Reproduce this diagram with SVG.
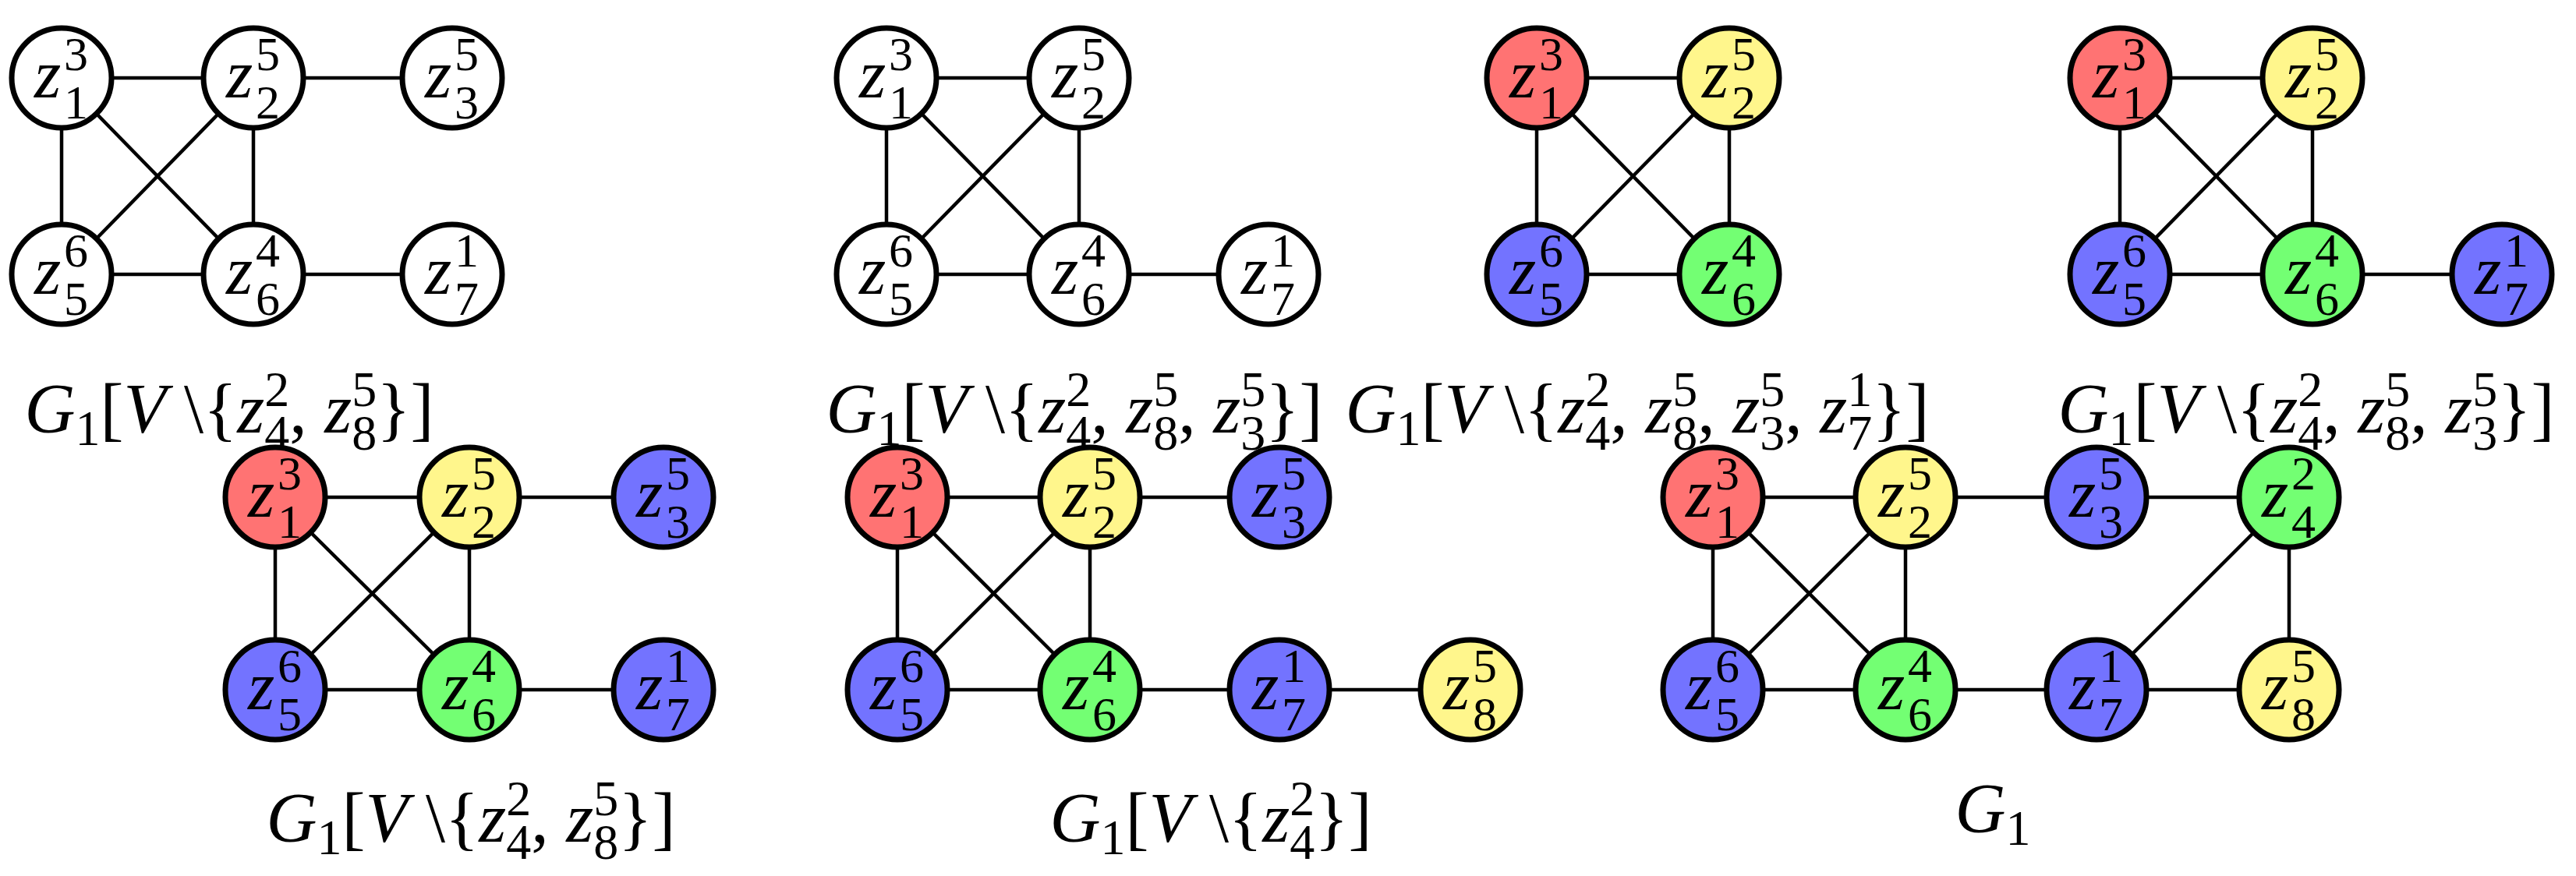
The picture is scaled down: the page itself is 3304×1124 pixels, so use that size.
<svg xmlns="http://www.w3.org/2000/svg" width="3304" height="1124" viewBox="0 0 3304 1124">
<style>
circle{stroke:#000;stroke-width:7}
.w{fill:#fff}.r{fill:#ff7373}.y{fill:#fff68c}.b{fill:#7373ff}.g{fill:#73ff73}
line{stroke:#000;stroke-width:4.5}
text{font-family:"Liberation Serif",serif;fill:#000}
.n{font-size:88px}
.i{font-style:italic}
.d{font-size:62px;font-style:normal}
.lab{font-size:90px}
.s{font-size:64px}
</style>
<g id="edges">
<line x1="79" y1="100" x2="325" y2="100"/><line x1="79" y1="100" x2="79" y2="352"/><line x1="79" y1="100" x2="325" y2="352"/><line x1="325" y1="100" x2="79" y2="352"/><line x1="325" y1="100" x2="325" y2="352"/><line x1="79" y1="352" x2="325" y2="352"/><line x1="325" y1="100" x2="580" y2="100"/><line x1="325" y1="352" x2="580" y2="352"/>
<line x1="1137" y1="100" x2="1384" y2="100"/><line x1="1137" y1="100" x2="1137" y2="352"/><line x1="1137" y1="100" x2="1384" y2="352"/><line x1="1384" y1="100" x2="1137" y2="352"/><line x1="1384" y1="100" x2="1384" y2="352"/><line x1="1137" y1="352" x2="1384" y2="352"/><line x1="1384" y1="352" x2="1627" y2="352"/>
<line x1="1971" y1="100" x2="2218" y2="100"/><line x1="1971" y1="100" x2="1971" y2="352"/><line x1="1971" y1="100" x2="2218" y2="352"/><line x1="2218" y1="100" x2="1971" y2="352"/><line x1="2218" y1="100" x2="2218" y2="352"/><line x1="1971" y1="352" x2="2218" y2="352"/>
<line x1="2719" y1="100" x2="2966" y2="100"/><line x1="2719" y1="100" x2="2719" y2="352"/><line x1="2719" y1="100" x2="2966" y2="352"/><line x1="2966" y1="100" x2="2719" y2="352"/><line x1="2966" y1="100" x2="2966" y2="352"/><line x1="2719" y1="352" x2="2966" y2="352"/><line x1="2966" y1="352" x2="3209" y2="352"/>
<line x1="353" y1="638" x2="602" y2="638"/><line x1="353" y1="638" x2="353" y2="885"/><line x1="353" y1="638" x2="602" y2="885"/><line x1="602" y1="638" x2="353" y2="885"/><line x1="602" y1="638" x2="602" y2="885"/><line x1="353" y1="885" x2="602" y2="885"/><line x1="602" y1="638" x2="851" y2="638"/><line x1="602" y1="885" x2="851" y2="885"/>
<line x1="1151" y1="638" x2="1398" y2="638"/><line x1="1151" y1="638" x2="1151" y2="885"/><line x1="1151" y1="638" x2="1398" y2="885"/><line x1="1398" y1="638" x2="1151" y2="885"/><line x1="1398" y1="638" x2="1398" y2="885"/><line x1="1151" y1="885" x2="1398" y2="885"/><line x1="1398" y1="638" x2="1641" y2="638"/><line x1="1398" y1="885" x2="1641" y2="885"/><line x1="1641" y1="885" x2="1886" y2="885"/>
<line x1="2197" y1="638" x2="2444" y2="638"/><line x1="2197" y1="638" x2="2197" y2="885"/><line x1="2197" y1="638" x2="2444" y2="885"/><line x1="2444" y1="638" x2="2197" y2="885"/><line x1="2444" y1="638" x2="2444" y2="885"/><line x1="2197" y1="885" x2="2444" y2="885"/><line x1="2444" y1="638" x2="2689" y2="638"/><line x1="2689" y1="638" x2="2936" y2="638"/><line x1="2444" y1="885" x2="2689" y2="885"/><line x1="2689" y1="885" x2="2936" y2="885"/><line x1="2936" y1="638" x2="2689" y2="885"/><line x1="2936" y1="638" x2="2936" y2="885"/>
</g>

<g id="p1z1"><circle class="w" cx="79" cy="100" r="64"/><text class="n"><tspan class="i" x="44" y="125">z</tspan><tspan class="d" x="82" y="90">3</tspan><tspan class="d" x="82" y="152">1</tspan></text></g>
<g id="p1z2"><circle class="w" cx="325" cy="100" r="64"/><text class="n"><tspan class="i" x="290" y="125">z</tspan><tspan class="d" x="328" y="90">5</tspan><tspan class="d" x="328" y="152">2</tspan></text></g>
<g id="p1z3"><circle class="w" cx="580" cy="100" r="64"/><text class="n"><tspan class="i" x="545" y="125">z</tspan><tspan class="d" x="583" y="90">5</tspan><tspan class="d" x="583" y="152">3</tspan></text></g>
<g id="p1z5"><circle class="w" cx="79" cy="352" r="64"/><text class="n"><tspan class="i" x="44" y="377">z</tspan><tspan class="d" x="82" y="342">6</tspan><tspan class="d" x="82" y="404">5</tspan></text></g>
<g id="p1z6"><circle class="w" cx="325" cy="352" r="64"/><text class="n"><tspan class="i" x="290" y="377">z</tspan><tspan class="d" x="328" y="342">4</tspan><tspan class="d" x="328" y="404">6</tspan></text></g>
<g id="p1z7"><circle class="w" cx="580" cy="352" r="64"/><text class="n"><tspan class="i" x="545" y="377">z</tspan><tspan class="d" x="583" y="342">1</tspan><tspan class="d" x="583" y="404">7</tspan></text></g>
<g id="p2z1"><circle class="w" cx="1137" cy="100" r="64"/><text class="n"><tspan class="i" x="1102" y="125">z</tspan><tspan class="d" x="1140" y="90">3</tspan><tspan class="d" x="1140" y="152">1</tspan></text></g>
<g id="p2z2"><circle class="w" cx="1384" cy="100" r="64"/><text class="n"><tspan class="i" x="1349" y="125">z</tspan><tspan class="d" x="1387" y="90">5</tspan><tspan class="d" x="1387" y="152">2</tspan></text></g>
<g id="p2z5"><circle class="w" cx="1137" cy="352" r="64"/><text class="n"><tspan class="i" x="1102" y="377">z</tspan><tspan class="d" x="1140" y="342">6</tspan><tspan class="d" x="1140" y="404">5</tspan></text></g>
<g id="p2z6"><circle class="w" cx="1384" cy="352" r="64"/><text class="n"><tspan class="i" x="1349" y="377">z</tspan><tspan class="d" x="1387" y="342">4</tspan><tspan class="d" x="1387" y="404">6</tspan></text></g>
<g id="p2z7"><circle class="w" cx="1627" cy="352" r="64"/><text class="n"><tspan class="i" x="1592" y="377">z</tspan><tspan class="d" x="1630" y="342">1</tspan><tspan class="d" x="1630" y="404">7</tspan></text></g>
<g id="p3z1"><circle class="r" cx="1971" cy="100" r="64"/><text class="n"><tspan class="i" x="1936" y="125">z</tspan><tspan class="d" x="1974" y="90">3</tspan><tspan class="d" x="1974" y="152">1</tspan></text></g>
<g id="p3z2"><circle class="y" cx="2218" cy="100" r="64"/><text class="n"><tspan class="i" x="2183" y="125">z</tspan><tspan class="d" x="2221" y="90">5</tspan><tspan class="d" x="2221" y="152">2</tspan></text></g>
<g id="p3z5"><circle class="b" cx="1971" cy="352" r="64"/><text class="n"><tspan class="i" x="1936" y="377">z</tspan><tspan class="d" x="1974" y="342">6</tspan><tspan class="d" x="1974" y="404">5</tspan></text></g>
<g id="p3z6"><circle class="g" cx="2218" cy="352" r="64"/><text class="n"><tspan class="i" x="2183" y="377">z</tspan><tspan class="d" x="2221" y="342">4</tspan><tspan class="d" x="2221" y="404">6</tspan></text></g>
<g id="p4z1"><circle class="r" cx="2719" cy="100" r="64"/><text class="n"><tspan class="i" x="2684" y="125">z</tspan><tspan class="d" x="2722" y="90">3</tspan><tspan class="d" x="2722" y="152">1</tspan></text></g>
<g id="p4z2"><circle class="y" cx="2966" cy="100" r="64"/><text class="n"><tspan class="i" x="2931" y="125">z</tspan><tspan class="d" x="2969" y="90">5</tspan><tspan class="d" x="2969" y="152">2</tspan></text></g>
<g id="p4z5"><circle class="b" cx="2719" cy="352" r="64"/><text class="n"><tspan class="i" x="2684" y="377">z</tspan><tspan class="d" x="2722" y="342">6</tspan><tspan class="d" x="2722" y="404">5</tspan></text></g>
<g id="p4z6"><circle class="g" cx="2966" cy="352" r="64"/><text class="n"><tspan class="i" x="2931" y="377">z</tspan><tspan class="d" x="2969" y="342">4</tspan><tspan class="d" x="2969" y="404">6</tspan></text></g>
<g id="p4z7"><circle class="b" cx="3209" cy="352" r="64"/><text class="n"><tspan class="i" x="3174" y="377">z</tspan><tspan class="d" x="3212" y="342">1</tspan><tspan class="d" x="3212" y="404">7</tspan></text></g>
<g id="p5z1"><circle class="r" cx="353" cy="638" r="64"/><text class="n"><tspan class="i" x="318" y="663">z</tspan><tspan class="d" x="356" y="628">3</tspan><tspan class="d" x="356" y="690">1</tspan></text></g>
<g id="p5z2"><circle class="y" cx="602" cy="638" r="64"/><text class="n"><tspan class="i" x="567" y="663">z</tspan><tspan class="d" x="605" y="628">5</tspan><tspan class="d" x="605" y="690">2</tspan></text></g>
<g id="p5z3"><circle class="b" cx="851" cy="638" r="64"/><text class="n"><tspan class="i" x="816" y="663">z</tspan><tspan class="d" x="854" y="628">5</tspan><tspan class="d" x="854" y="690">3</tspan></text></g>
<g id="p5z5"><circle class="b" cx="353" cy="885" r="64"/><text class="n"><tspan class="i" x="318" y="910">z</tspan><tspan class="d" x="356" y="875">6</tspan><tspan class="d" x="356" y="937">5</tspan></text></g>
<g id="p5z6"><circle class="g" cx="602" cy="885" r="64"/><text class="n"><tspan class="i" x="567" y="910">z</tspan><tspan class="d" x="605" y="875">4</tspan><tspan class="d" x="605" y="937">6</tspan></text></g>
<g id="p5z7"><circle class="b" cx="851" cy="885" r="64"/><text class="n"><tspan class="i" x="816" y="910">z</tspan><tspan class="d" x="854" y="875">1</tspan><tspan class="d" x="854" y="937">7</tspan></text></g>
<g id="p6z1"><circle class="r" cx="1151" cy="638" r="64"/><text class="n"><tspan class="i" x="1116" y="663">z</tspan><tspan class="d" x="1154" y="628">3</tspan><tspan class="d" x="1154" y="690">1</tspan></text></g>
<g id="p6z2"><circle class="y" cx="1398" cy="638" r="64"/><text class="n"><tspan class="i" x="1363" y="663">z</tspan><tspan class="d" x="1401" y="628">5</tspan><tspan class="d" x="1401" y="690">2</tspan></text></g>
<g id="p6z3"><circle class="b" cx="1641" cy="638" r="64"/><text class="n"><tspan class="i" x="1606" y="663">z</tspan><tspan class="d" x="1644" y="628">5</tspan><tspan class="d" x="1644" y="690">3</tspan></text></g>
<g id="p6z5"><circle class="b" cx="1151" cy="885" r="64"/><text class="n"><tspan class="i" x="1116" y="910">z</tspan><tspan class="d" x="1154" y="875">6</tspan><tspan class="d" x="1154" y="937">5</tspan></text></g>
<g id="p6z6"><circle class="g" cx="1398" cy="885" r="64"/><text class="n"><tspan class="i" x="1363" y="910">z</tspan><tspan class="d" x="1401" y="875">4</tspan><tspan class="d" x="1401" y="937">6</tspan></text></g>
<g id="p6z7"><circle class="b" cx="1641" cy="885" r="64"/><text class="n"><tspan class="i" x="1606" y="910">z</tspan><tspan class="d" x="1644" y="875">1</tspan><tspan class="d" x="1644" y="937">7</tspan></text></g>
<g id="p6z8"><circle class="y" cx="1886" cy="885" r="64"/><text class="n"><tspan class="i" x="1851" y="910">z</tspan><tspan class="d" x="1889" y="875">5</tspan><tspan class="d" x="1889" y="937">8</tspan></text></g>
<g id="p7z1"><circle class="r" cx="2197" cy="638" r="64"/><text class="n"><tspan class="i" x="2162" y="663">z</tspan><tspan class="d" x="2200" y="628">3</tspan><tspan class="d" x="2200" y="690">1</tspan></text></g>
<g id="p7z2"><circle class="y" cx="2444" cy="638" r="64"/><text class="n"><tspan class="i" x="2409" y="663">z</tspan><tspan class="d" x="2447" y="628">5</tspan><tspan class="d" x="2447" y="690">2</tspan></text></g>
<g id="p7z3"><circle class="b" cx="2689" cy="638" r="64"/><text class="n"><tspan class="i" x="2654" y="663">z</tspan><tspan class="d" x="2692" y="628">5</tspan><tspan class="d" x="2692" y="690">3</tspan></text></g>
<g id="p7z4"><circle class="g" cx="2936" cy="638" r="64"/><text class="n"><tspan class="i" x="2901" y="663">z</tspan><tspan class="d" x="2939" y="628">2</tspan><tspan class="d" x="2939" y="690">4</tspan></text></g>
<g id="p7z5"><circle class="b" cx="2197" cy="885" r="64"/><text class="n"><tspan class="i" x="2162" y="910">z</tspan><tspan class="d" x="2200" y="875">6</tspan><tspan class="d" x="2200" y="937">5</tspan></text></g>
<g id="p7z6"><circle class="g" cx="2444" cy="885" r="64"/><text class="n"><tspan class="i" x="2409" y="910">z</tspan><tspan class="d" x="2447" y="875">4</tspan><tspan class="d" x="2447" y="937">6</tspan></text></g>
<g id="p7z7"><circle class="b" cx="2689" cy="885" r="64"/><text class="n"><tspan class="i" x="2654" y="910">z</tspan><tspan class="d" x="2692" y="875">1</tspan><tspan class="d" x="2692" y="937">7</tspan></text></g>
<g id="p7z8"><circle class="y" cx="2936" cy="885" r="64"/><text class="n"><tspan class="i" x="2901" y="910">z</tspan><tspan class="d" x="2939" y="875">5</tspan><tspan class="d" x="2939" y="937">8</tspan></text></g>

<g id="labels">
<text class="lab" x="294" y="555" text-anchor="middle"><tspan class="i">G</tspan><tspan class="s" dy="16">1</tspan><tspan dy="-16">[</tspan><tspan class="i">V</tspan> \{<tspan class="i">z</tspan><tspan class="s" dy="-34">2</tspan><tspan class="s" dx="-32" dy="56">4</tspan><tspan dy="-22">, </tspan><tspan class="i">z</tspan><tspan class="s" dy="-34">5</tspan><tspan class="s" dx="-32" dy="56">8</tspan><tspan dy="-22">}]</tspan></text>
<text class="lab" x="1378" y="555" text-anchor="middle"><tspan class="i">G</tspan><tspan class="s" dy="16">1</tspan><tspan dy="-16">[</tspan><tspan class="i">V</tspan> \{<tspan class="i">z</tspan><tspan class="s" dy="-34">2</tspan><tspan class="s" dx="-32" dy="56">4</tspan><tspan dy="-22">, </tspan><tspan class="i">z</tspan><tspan class="s" dy="-34">5</tspan><tspan class="s" dx="-32" dy="56">8</tspan><tspan dy="-22">, </tspan><tspan class="i">z</tspan><tspan class="s" dy="-34">5</tspan><tspan class="s" dx="-32" dy="56">3</tspan><tspan dy="-22">}]</tspan></text>
<text class="lab" x="2100" y="555" text-anchor="middle"><tspan class="i">G</tspan><tspan class="s" dy="16">1</tspan><tspan dy="-16">[</tspan><tspan class="i">V</tspan> \{<tspan class="i">z</tspan><tspan class="s" dy="-34">2</tspan><tspan class="s" dx="-32" dy="56">4</tspan><tspan dy="-22">, </tspan><tspan class="i">z</tspan><tspan class="s" dy="-34">5</tspan><tspan class="s" dx="-32" dy="56">8</tspan><tspan dy="-22">, </tspan><tspan class="i">z</tspan><tspan class="s" dy="-34">5</tspan><tspan class="s" dx="-32" dy="56">3</tspan><tspan dy="-22">, </tspan><tspan class="i">z</tspan><tspan class="s" dy="-34">1</tspan><tspan class="s" dx="-32" dy="56">7</tspan><tspan dy="-22">}]</tspan></text>
<text class="lab" x="2958" y="555" text-anchor="middle"><tspan class="i">G</tspan><tspan class="s" dy="16">1</tspan><tspan dy="-16">[</tspan><tspan class="i">V</tspan> \{<tspan class="i">z</tspan><tspan class="s" dy="-34">2</tspan><tspan class="s" dx="-32" dy="56">4</tspan><tspan dy="-22">, </tspan><tspan class="i">z</tspan><tspan class="s" dy="-34">5</tspan><tspan class="s" dx="-32" dy="56">8</tspan><tspan dy="-22">, </tspan><tspan class="i">z</tspan><tspan class="s" dy="-34">5</tspan><tspan class="s" dx="-32" dy="56">3</tspan><tspan dy="-22">}]</tspan></text>
<text class="lab" x="604" y="1080" text-anchor="middle"><tspan class="i">G</tspan><tspan class="s" dy="16">1</tspan><tspan dy="-16">[</tspan><tspan class="i">V</tspan> \{<tspan class="i">z</tspan><tspan class="s" dy="-34">2</tspan><tspan class="s" dx="-32" dy="56">4</tspan><tspan dy="-22">, </tspan><tspan class="i">z</tspan><tspan class="s" dy="-34">5</tspan><tspan class="s" dx="-32" dy="56">8</tspan><tspan dy="-22">}]</tspan></text>
<text class="lab" x="1553" y="1080" text-anchor="middle"><tspan class="i">G</tspan><tspan class="s" dy="16">1</tspan><tspan dy="-16">[</tspan><tspan class="i">V</tspan> \{<tspan class="i">z</tspan><tspan class="s" dy="-34">2</tspan><tspan class="s" dx="-32" dy="56">4</tspan><tspan dy="-22">}]</tspan></text>
<text class="lab" x="2556" y="1068" text-anchor="middle"><tspan class="i">G</tspan><tspan class="s" dy="16">1</tspan></text>
</g>
</svg>
